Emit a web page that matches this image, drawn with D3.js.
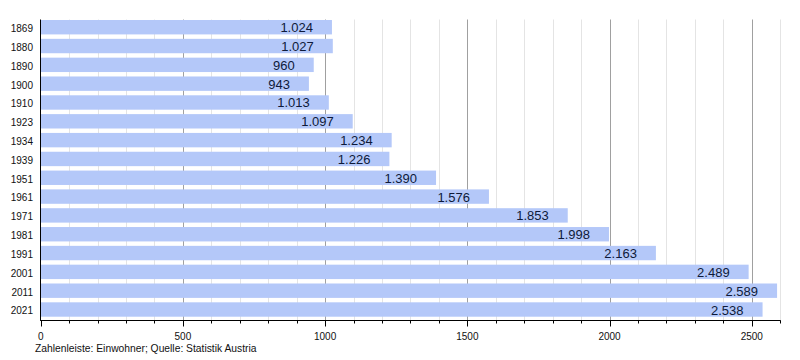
<!DOCTYPE html>
<html><head><meta charset="utf-8">
<script src="https://cdn.jsdelivr.net/npm/d3@7"></script>
<style>body{margin:0;background:#fff}svg{display:block}</style>
</head><body>
<svg id="c" width="800" height="360"></svg>
<script>
const years = ["1869","1880","1890","1900","1910","1923","1934","1939","1951","1961","1971","1981","1991","2001","2011","2021"];
const population = [1024,1027,960,943,1013,1097,1234,1226,1390,1576,1853,1998,2163,2489,2589,2538];
const majorTicks = [0,500,1000,1500,2000,2500];
const footerText = "Zahlenleiste: Einwohner; Quelle: Statistik Austria";

const svg = d3.select("#c");
const font = "'Liberation Sans', Arial, Helvetica, sans-serif";
const x = d3.scaleLinear().domain([0,2600]).range([40.7,780.2]);
const step = 18.82;
const y = d3.scaleBand().domain(years).range([17.8, 17.8+16*step]).paddingInner(0.235).paddingOuter(0.1175);
const yTop = 19.5, yBot = 320.3;
const minor = d3.range(0,2601,100);
const loc = d3.formatLocale({decimal:",",thousands:".",grouping:[3],currency:["",""]});
const fmt = loc.format(",d");

// gridlines
svg.append("g").selectAll("line").data(minor.filter(v=>v%500!==0 && v>0)).join("line")
  .attr("x1",d=>Math.round(x(d))+0.5).attr("x2",d=>Math.round(x(d))+0.5)
  .attr("y1",yTop).attr("y2",yBot).attr("stroke","#e4e4e4").attr("stroke-width",1);
svg.append("g").selectAll("line").data(majorTicks.filter(v=>v>0)).join("line")
  .attr("x1",d=>Math.round(x(d))+0.5).attr("x2",d=>Math.round(x(d))+0.5)
  .attr("y1",yTop).attr("y2",yBot).attr("stroke","#a0a0a0").attr("stroke-width",1);

// bars
svg.append("g").selectAll("rect").data(years).join("rect")
  .attr("x",x(0)).attr("y",d=>y(d)).attr("width",(d,i)=>x(population[i])-x(0))
  .attr("height",y.bandwidth()).attr("fill","#b4c8f9");

// value labels
svg.append("g").selectAll("text").data(years).join("text")
  .attr("x",(d,i)=>x(population[i])-19).attr("y",d=>y(d)+y.bandwidth()/2+0.5)
  .attr("text-anchor","end").attr("dominant-baseline","central")
  .attr("font-family",font).attr("font-size",13).attr("fill","#0e1a3a")
  .text((d,i)=>fmt(population[i]));

// y labels
svg.append("g").selectAll("text").data(years).join("text")
  .attr("x",33).attr("y",d=>y(d)+y.bandwidth()/2+1.4)
  .attr("text-anchor","end").attr("dominant-baseline","central")
  .attr("font-family",font).attr("font-size",10).attr("fill","#111")
  .text(d=>d);

// left axis line
svg.append("line").attr("x1",40.5).attr("x2",40.5).attr("y1",yTop).attr("y2",yBot+0.5)
  .attr("stroke","#000").attr("stroke-width",1);

// x axis
const ax = svg.append("g").attr("transform",`translate(0,${Math.round(yBot)+0.5})`);
ax.append("line").attr("x1",x(0)-0.5).attr("x2",x(2600)+0.5).attr("stroke","#000");
ax.selectAll("line.t").data(minor).join("line").attr("class","t")
  .attr("x1",d=>Math.round(x(d))+0.5).attr("x2",d=>Math.round(x(d))+0.5)
  .attr("y1",0).attr("y2",d=>d%500===0?6:3).attr("stroke","#000");
ax.selectAll("text").data(majorTicks).join("text")
  .attr("x",d=>x(d)).attr("y",19.3).attr("text-anchor","middle")
  .attr("font-family",font).attr("font-size",10).attr("fill","#111")
  .text(d=>d);

// footer
svg.append("text").attr("x",35).attr("y",351.5).attr("font-family",font).attr("font-size",10.3)
  .attr("fill","#111").text(footerText);
</script>
</body></html>
